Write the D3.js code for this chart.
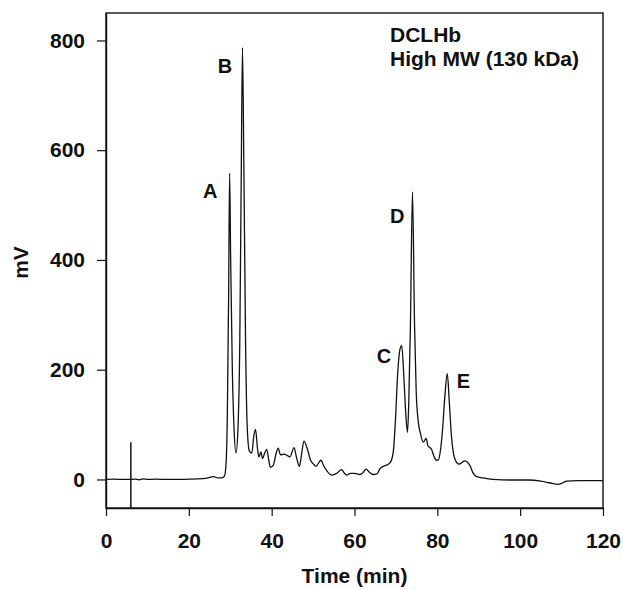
<!DOCTYPE html>
<html>
<head>
<meta charset="utf-8">
<script src="https://cdn.jsdelivr.net/npm/d3@7.9.0/dist/d3.min.js"></script>
<style>
  body { margin: 0; background: #fff; }
  svg text { font-family: "Liberation Sans", Arial, sans-serif; font-weight: bold; fill: #111; }
</style>
</head>
<body>
<svg id="chart" width="623" height="590"></svg>
<script>
// chromatogram trace (time in min, signal in mV)
const time = [0, 2, 4, 5.6, 7, 8, 9, 10, 12, 15, 18, 20, 22, 24, 25, 26, 27, 28,
  28.6, 29.0, 29.3, 29.6, 29.85, 30.1, 30.5, 30.9, 31.4, 31.9, 32.3, 32.65, 32.95, 33.3, 33.7, 34.1,
  34.6, 35.2, 35.7, 36.1, 36.6, 36.9, 37.4, 37.8, 38.3, 38.8, 39.3, 39.7, 40.4, 41.0, 41.6, 42.1,
  43.0, 43.7, 44.4, 45.4, 46.0, 46.7, 47.2, 47.8, 48.6, 49.4, 50.1, 50.7, 51.9, 52.6, 53.3, 54.5,
  55.7, 56.9, 57.5, 58.1, 59.0, 60.0, 61.3, 62.0, 62.8, 63.6, 64.5, 65.4, 66.2, 67.0, 68.0, 68.8,
  69.4, 69.9, 70.4, 71.0, 71.4, 71.9, 72.3, 72.8, 73.1, 73.5, 74.0, 74.5, 74.9, 75.4, 75.9, 76.6,
  77.3, 77.7, 78.6, 79.2, 79.8, 80.3, 80.7, 81.2, 81.8, 82.4, 82.9, 83.4, 83.9, 84.5, 85.2, 85.8,
  86.6, 87.2, 87.9, 88.6, 89.5, 91, 93.5, 97.5, 102, 105, 107, 109.2, 110.3, 111.2, 114, 117, 120];
const signal = [0, 0.5, 0, 0, 0.5, -0.5, 1, 0, 0.5, 0, 0, 0.5, 1, 2, 4, 5, 3, 3,
  6, 30, 120, 330, 558, 400, 200, 95, 48, 100, 250, 550, 787, 560, 250, 95,
  52, 48, 80, 91, 55, 41, 50, 38, 48, 55, 35, 22, 26, 45, 57, 45,
  46, 44, 41, 58, 40, 24, 45, 70, 56, 35, 28, 24, 35, 24, 16, 8,
  11, 18, 12, 8, 11, 11, 9, 12, 19, 13, 9, 10, 20, 24, 27, 33,
  53, 110, 190, 238, 244, 190, 130, 86, 140, 280, 524, 280, 160, 105, 85, 68,
  75, 62, 55, 42, 35, 36, 50, 85, 150, 193, 140, 80, 47, 33, 28, 30,
  34, 32, 25, 12, 5, 3, 0, -1, -1, -3, -6, -9, -6, -3, -2, -2, -2];

// injection spike
const spikeTime = 6.0;
const spikeRange = [-52, 68];

const xTicks = [0, 20, 40, 60, 80, 100, 120];
const yTicks = [0, 200, 400, 600, 800];

const peakLabels = ['A', 'B', 'C', 'D', 'E'];
const peakLabelTime = [23.4, 27.0, 65.4, 68.6, 84.7];
const peakLabelMv = [512, 740, 213, 467, 166];

const titleLines = ['DCLHb', 'High MW (130 kDa)'];

const svg = d3.select('#chart');
const plot = { left: 106, right: 603, top: 13, bottom: 508 };

const x = d3.scaleLinear().domain([0, 120]).range([plot.left, plot.right]);
const y = d3.scaleLinear().domain([-52, 850]).range([plot.bottom, plot.top]);

// frame
svg.append('rect')
  .attr('x', plot.left).attr('y', plot.top)
  .attr('width', plot.right - plot.left).attr('height', plot.bottom - plot.top)
  .attr('fill', 'none').attr('stroke', '#111').attr('stroke-width', 1.4);

const xAxis = svg.append('g')
  .attr('transform', `translate(0,${plot.bottom})`)
  .call(d3.axisBottom(x).tickValues(xTicks).tickSize(8).tickPadding(17).tickSizeOuter(0));

const yAxis = svg.append('g')
  .attr('transform', `translate(${plot.left},0)`)
  .call(d3.axisLeft(y).tickValues(yTicks).tickSize(9).tickPadding(12).tickSizeOuter(0));

[xAxis, yAxis].forEach(g => {
  g.select('.domain').attr('stroke', '#111').attr('stroke-width', 1.4);
  g.selectAll('.tick line').attr('stroke', '#111').attr('stroke-width', 1.2);
  g.selectAll('.tick text')
    .attr('font-size', 21)
    .attr('font-family', '"Liberation Sans", Arial, sans-serif')
    .attr('font-weight', 'bold')
    .attr('fill', '#111');
});

// axis titles
svg.append('text')
  .attr('x', (plot.left + plot.right) / 2).attr('y', 583)
  .attr('text-anchor', 'middle').attr('font-size', 21)
  .text('Time (min)');

svg.append('text')
  .attr('transform', `translate(28,${(plot.top + plot.bottom) / 2 + 2}) rotate(-90)`)
  .attr('text-anchor', 'middle').attr('font-size', 21)
  .text('mV');

// trace
const points = time.map((t, i) => [t, signal[i]]);
const line = d3.line()
  .x(d => x(d[0]))
  .y(d => y(d[1]))
  .curve(d3.curveMonotoneX);

svg.append('path')
  .datum(points)
  .attr('d', line)
  .attr('fill', 'none')
  .attr('stroke', '#111')
  .attr('stroke-width', 1.3)
  .attr('stroke-linejoin', 'round');

svg.append('line')
  .attr('x1', x(spikeTime)).attr('x2', x(spikeTime))
  .attr('y1', y(spikeRange[0])).attr('y2', y(spikeRange[1]))
  .attr('stroke', '#111').attr('stroke-width', 1.5);

// peak letters
peakLabels.forEach((lab, i) => {
  svg.append('text')
    .attr('x', x(peakLabelTime[i]))
    .attr('y', y(peakLabelMv[i]))
    .attr('font-size', 20)
    .text(lab);
});

// sample name
titleLines.forEach((txt, i) => {
  svg.append('text')
    .attr('x', 390).attr('y', 42 + i * 24)
    .attr('font-size', 21)
    .text(txt);
});
</script>
</body>
</html>
